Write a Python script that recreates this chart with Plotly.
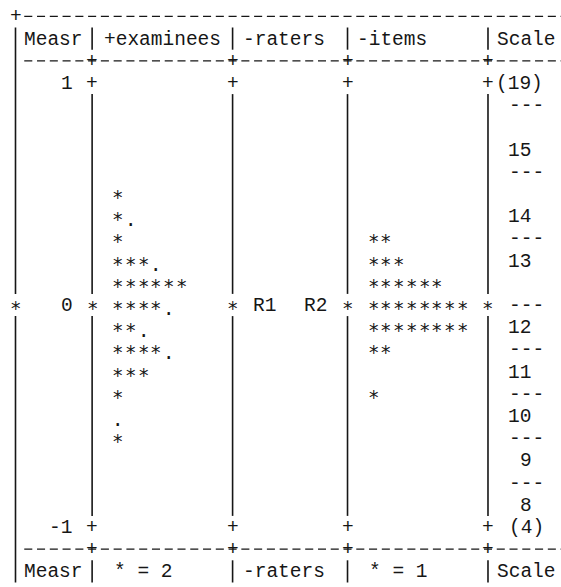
import plotly.graph_objects as go

measure_ticks = [1, 0, -1]
measure_tick_labels = ["1", "0", "-1"]

examinee_measures = [0.5, 0.4, 0.3, 0.2, 0.1, 0.0, -0.1, -0.2, -0.3, -0.4, -0.5, -0.6]
examinee_counts = [2, 3, 2, 7, 12, 9, 5, 9, 6, 2, 1, 2]
examinee_per_star = 2

rater_names = ["R1", "R2"]
rater_measures = [0.0, 0.0]

item_measures = [0.3, 0.2, 0.1, 0.0, -0.1, -0.2, -0.4]
item_counts = [2, 3, 6, 8, 8, 2, 1]
item_per_star = 1

scale_labels = ["(19)", "---", "15", "---", "14", "---", "13", "---", "12",
                "---", "11", "---", "10", "---", "9", "---", "8", "(4)"]
scale_measures = [1.0, 0.9, 0.7, 0.6, 0.4, 0.3, 0.2, 0.0, -0.1,
                  -0.2, -0.3, -0.4, -0.5, -0.6, -0.7, -0.8, -0.9, -1.0]

column_headers = ["Measr", "+examinees", "-raters", "-items", "Scale"]

# ---------------- layout constants ----------------
W, H = 561, 587
CELL_PX = 12.77            # width of one character cell
X0_PX = 15.5               # centre of cell 0
ZERO_PX = 305              # pixel row of measure 0
PX_PER_LOGIT = 222
LINES_PER_LOGIT = 10
NBSP = "\u00a0"

borders = [0, 6, 17, 26, 37]        # separator cells
starts = [1, 8, 19, 28, 38]         # first content cell per column
header_starts = [1, 7, 18, 27, 38]
RIGHT_STAR_CELL = 43
SPAN_END = 45

INK = "#161616"
FONT = dict(family="Liberation Mono, DejaVu Sans Mono, monospace", size=19.5, color=INK)
STAR_FONT = dict(family="DejaVu Sans Mono, Liberation Mono, monospace", size=19, color=INK)
TEXT_YSHIFT = -1
STAR_YSHIFT = -3
LINE = dict(color=INK, width=1.6)

fig = go.Figure()
annotations = []


def row_y(k):
    return k / LINES_PER_LOGIT


def add_text(start_cells, ys, texts, font=FONT, yshift=TEXT_YSHIFT):
    """Text laid on the character grid; centred over the cells it covers."""
    for c, y, t in zip(start_cells, ys, texts):
        annotations.append(dict(x=c + (len(t) - 1) / 2, y=y, text=t, xref="x", yref="y",
                                showarrow=False, xanchor="center", yanchor="middle",
                                font=font, yshift=yshift, borderpad=0, borderwidth=0))


def add_cells(start_cell, y, s, font=STAR_FONT, yshift=STAR_YSHIFT):
    """One glyph per character cell (keeps the fixed-pitch spacing of the map)."""
    for i, ch in enumerate(s):
        annotations.append(dict(x=start_cell + i, y=y, text=ch, xref="x", yref="y",
                                showarrow=False, xanchor="center", yanchor="middle",
                                font=font, yshift=yshift, borderpad=0, borderwidth=0))


def stars(n, per):
    return "*" * (n // per) + ("." if n % per else "")


# ---------------- horizontal rules (dashed, one dash per character cell) ----------------
dash_px = CELL_PX * 0.63
gap_px = CELL_PX - dash_px
x_first = 0.5 + (gap_px / 2) / CELL_PX
for k in [13, 11, -11, -13]:
    fig.add_trace(go.Scatter(x=[x_first, SPAN_END], y=[row_y(k), row_y(k)], mode="lines",
                             line=dict(color=INK, width=1.3, dash="%.2fpx,%.2fpx" % (dash_px, gap_px)),
                             hoverinfo="skip", showlegend=False))
# "+" joints on the rules
jx, jy, jt = [], [], []
for k in [13, -13]:
    jx.append(0); jy.append(row_y(k)); jt.append("+")
for k in [11, -11]:
    for b in borders[1:]:
        jx.append(b); jy.append(row_y(k)); jt.append("+")
add_text(jx, jy, jt)

# header and footer rows
add_text(header_starts, [row_y(12)] * 5, column_headers)
footer = ["Measr", "* = %d" % examinee_per_star, "-raters", "* = %d" % item_per_star, "Scale"]
add_text([1, 8, 18, 28, 38], [row_y(-12)] * 5, footer)

# ---------------- vertical rulers ----------------
tick_rows = {round(t * LINES_PER_LOGIT) for t in measure_ticks}
for b in borders:
    bar_rows = []
    for k in range(12, -13, -1):
        if k == 0:
            continue
        if b != 0 and (k in tick_rows or abs(k) == 11):
            continue
        bar_rows.append(k)
    xs, ys = [], []
    run = [bar_rows[0]]
    for k in bar_rows[1:] + [None]:
        if k is not None and k == run[-1] - 1:
            run.append(k)
            continue
        xs += [b, b, None]
        ys += [row_y(run[0]) + 0.05, row_y(run[-1]) - 0.05, None]
        if k is not None:
            run = [k]
    fig.add_trace(go.Scatter(x=xs, y=ys, mode="lines", line=LINE,
                             hoverinfo="skip", showlegend=False))

# tick marks on the rulers: "+" at whole logits, "*" on the zero line
for t in measure_ticks:
    if t == 0:
        for b in borders + [RIGHT_STAR_CELL]:
            add_cells(b, t, "*")
    else:
        add_text(borders[1:], [t] * (len(borders) - 1), ["+"] * (len(borders) - 1))

# measure labels, right aligned ending at cell 4
add_text([5 - len(l) for l in measure_tick_labels], measure_ticks, measure_tick_labels)

# ---------------- distributions ----------------
for m, n in zip(examinee_measures, examinee_counts):
    add_cells(starts[1], m, stars(n, examinee_per_star))
for m, n in zip(item_measures, item_counts):
    add_cells(starts[3], m, stars(n, item_per_star))

# raters (names sharing a row are joined)
rater_rows = {}
for name, m in zip(rater_names, rater_measures):
    rater_rows.setdefault(m, []).append(name)
for m, names in rater_rows.items():
    c = starts[2]
    for name in names:
        add_text([c], [m], [name])
        c += len(name) + 2

# rating scale column
scale_starts = [(40 if lab.isdigit() else 41) - len(lab) + 1 for lab in scale_labels]
add_text(scale_starts, scale_measures, scale_labels)

# ---------------- axes ----------------
fig.update_xaxes(range=[-X0_PX / CELL_PX, (W - X0_PX) / CELL_PX], visible=False, fixedrange=True)
fig.update_yaxes(range=[-(H - ZERO_PX) / PX_PER_LOGIT, ZERO_PX / PX_PER_LOGIT], visible=False, fixedrange=True)
fig.update_layout(width=W, height=H, margin=dict(l=0, r=0, t=0, b=0),
                  paper_bgcolor="white", plot_bgcolor="white", showlegend=False,
                  annotations=annotations)

fig.write_html("out.html", config={"displayModeBar": False, "staticPlot": True},
               post_script="document.body.style.margin='0';document.body.style.overflow='hidden';")
